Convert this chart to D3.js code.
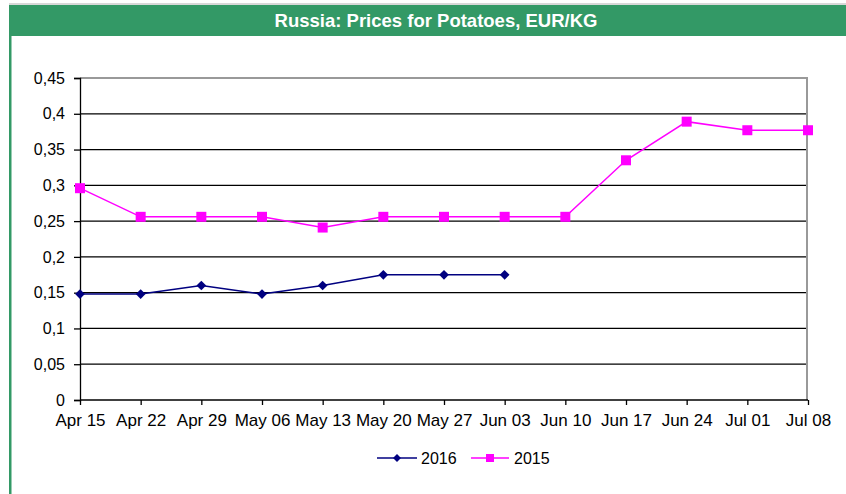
<!DOCTYPE html>
<html><head><meta charset="utf-8">
<script src="https://cdn.jsdelivr.net/npm/d3@7"></script>
<style>html,body{margin:0;padding:0;background:#fff;}svg{display:block;}</style>
</head><body>
<svg id="chart" width="846" height="494"></svg>
<script>
const categories = ["Apr 15","Apr 22","Apr 29","May 06","May 13","May 20","May 27","Jun 03","Jun 10","Jun 17","Jun 24","Jul 01","Jul 08"];
const values2016 = [0.148,0.148,0.160,0.148,0.160,0.175,0.175,0.175];
const values2015 = [0.296,0.256,0.256,0.256,0.241,0.256,0.256,0.256,0.256,0.335,0.389,0.377,0.377];
const yTicks = [0,0.05,0.1,0.15,0.2,0.25,0.3,0.35,0.4,0.45];
const seriesNames = ["2016","2015"];
const title = "Russia: Prices for Potatoes, EUR/KG";

const svg = d3.select("#chart");
const font = "'Liberation Sans', Arial, sans-serif";
const green = "#339966";

// frame
svg.append("rect").attr("x",9).attr("y",3).attr("width",837).attr("height",2).attr("fill","#d8d8d8");
svg.append("rect").attr("x",9).attr("y",5).attr("width",837).attr("height",31).attr("fill",green);
svg.append("rect").attr("x",9).attr("y",36).attr("width",2.5).attr("height",458).attr("fill",green);
svg.append("text").attr("x",436).attr("y",27).attr("text-anchor","middle")
  .attr("fill","#fff").attr("font-family",font).attr("font-weight","bold").attr("font-size",18.5)
  .text(title);

const x = d3.scalePoint().domain(categories).range([80,808]);
const y = d3.scaleLinear().domain([0,0.45]).range([400,78]);

// gridlines
svg.append("g").selectAll("line").data(yTicks.filter(d=>d>0)).join("line")
  .attr("x1",80).attr("x2",807).attr("y1",d=>y(d)).attr("y2",d=>y(d))
  .attr("stroke",d=>d===0.45?"#999":"#000").attr("stroke-width",d=>d===0.45?2:1.3);
// right border
svg.append("line").attr("x1",807).attr("x2",807).attr("y1",77).attr("y2",400).attr("stroke","#999").attr("stroke-width",2);

// y axis
const fmt = d => String(d).replace(".",",");
const yAxis = svg.append("g").attr("transform","translate(80,0)")
  .call(d3.axisLeft(y).tickValues(yTicks).tickFormat(fmt).tickSize(6).tickPadding(9));
// x axis
const xAxis = svg.append("g").attr("transform","translate(0,400)")
  .call(d3.axisBottom(x).tickSize(5).tickPadding(9));
[yAxis,xAxis].forEach(g=>{
  g.select(".domain").attr("stroke","#000").attr("stroke-width",1.3);
  g.selectAll(".tick line").attr("stroke","#000").attr("stroke-width",1.3);
  g.selectAll("text").attr("font-family",font).attr("fill","#000");
});
yAxis.selectAll(".tick text").attr("font-size",16);
xAxis.selectAll(".tick text").attr("font-size",17);
xAxis.select(".domain").attr("d","M80,0H808");

// lines
const line = d3.line().x((d,i)=>x(categories[i])).y(d=>y(d));
svg.append("path").datum(values2015).attr("d",line).attr("fill","none").attr("stroke","#ff00ff").attr("stroke-width",1.5);
svg.append("g").selectAll("rect").data(values2015).join("rect")
  .attr("x",(d,i)=>x(categories[i])-5).attr("y",d=>y(d)-5).attr("width",10).attr("height",10).attr("fill","#ff00ff");
svg.append("path").datum(values2016).attr("d",line).attr("fill","none").attr("stroke","#000080").attr("stroke-width",1.5);
const diamond = d3.symbol().type(d3.symbolDiamond2).size(60);
svg.append("g").selectAll("path").data(values2016).join("path")
  .attr("d",diamond).attr("transform",(d,i)=>`translate(${x(categories[i])},${y(d)})`).attr("fill","#000080");

// legend
const lg = svg.append("g");
lg.append("line").attr("x1",377).attr("x2",417).attr("y1",458).attr("y2",458).attr("stroke","#000080").attr("stroke-width",1.5);
lg.append("path").attr("d",d3.symbol().type(d3.symbolDiamond2).size(40)).attr("transform","translate(397,458)").attr("fill","#000080");
lg.append("text").attr("x",421).attr("y",464).attr("font-family",font).attr("font-size",16).text(seriesNames[0]);
lg.append("line").attr("x1",471).attr("x2",509).attr("y1",458).attr("y2",458).attr("stroke","#ff00ff").attr("stroke-width",1.5);
lg.append("rect").attr("x",486).attr("y",454).attr("width",8).attr("height",8).attr("fill","#ff00ff");
lg.append("text").attr("x",514).attr("y",464).attr("font-family",font).attr("font-size",16).text(seriesNames[1]);
</script>
</body></html>
